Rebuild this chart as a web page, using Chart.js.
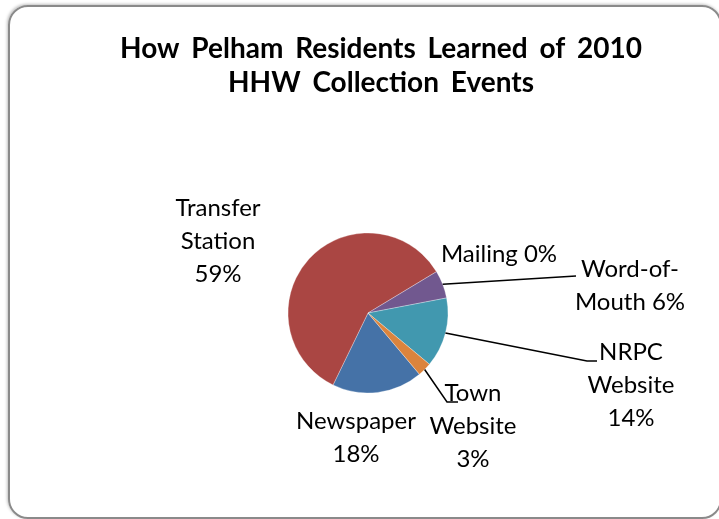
<!DOCTYPE html>
<html>
<head>
<meta charset="utf-8">
<script src="https://cdn.jsdelivr.net/npm/chart.js@4/dist/chart.umd.min.js"></script>
<style>
    html, body { margin: 0; padding: 0; background: #fff; }
    body { width: 719px; height: 519px; position: relative; overflow: hidden; }
    #frame {
        position: absolute; left: 8px; top: 5px;
        width: 714px; height: 514px; box-sizing: border-box;
        border: 2px solid #8a8a8a; border-radius: 20px;
        box-shadow: -1px -1px 3px rgba(0, 0, 0, 0.25);
    }
    #pie { position: absolute; left: 0; top: 0; }
</style>
</head>
<body>
<div id="frame"></div>
<canvas id="pie" width="719" height="519"></canvas>
<script>
// Data (respondent counts)
const categories = ['Newspaper', 'Transfer Station', 'Mailing', 'Word-of-Mouth', 'NRPC Website', 'Town Website'];
const counts = [26, 84, 0, 8, 20, 4];
const sliceColors = ['#4572A7', '#AA4643', '#89A54E', '#71588F', '#4198AF', '#DB843D'];
const titleLines = ['How Pelham Residents Learned of 2010', 'HHW Collection Events'];

// How each label is wrapped, '{p}' is the percentage
const labelText = ['Newspaper|{p}', 'Transfer|Station|{p}', 'Mailing {p}', 'Word-of-|Mouth {p}', 'NRPC|Website|{p}', 'Town|Website|{p}'];

// Label block centres and leader bends, relative to the pie centre
const labelLayout = [
    { dx: -12, dy: 125, leader: null },
    { dx: -150, dy: -72, leader: null },
    { dx: 131, dy: -59, leader: null },
    { dx: 262, dy: -27, leader: [[208, -37]] },
    { dx: 263, dy: 72, leader: [[219, 48], [229, 48]] },
    { dx: 105, dy: 113, leader: [[79, 89], [90, 89]] },
];

const LABEL_FONT = '24px Lato';
const LINE_HEIGHT = 33;

const sliceLabels = {
    id: 'sliceLabels',
    afterDatasetsDraw(chart) {
        const ctx = chart.ctx;
        const arcs = chart.getDatasetMeta(0).data;
        const total = counts.reduce((a, b) => a + b, 0);

        ctx.save();
        // leader lines
        ctx.strokeStyle = '#000';
        ctx.lineWidth = 1.5;
        arcs.forEach((arc, i) => {
            const lay = labelLayout[i];
            if (!lay.leader) return;
            const p = arc.getProps(['x', 'y', 'startAngle', 'endAngle', 'outerRadius'], true);
            const mid = (p.startAngle + p.endAngle) / 2;
            ctx.beginPath();
            ctx.moveTo(p.x + Math.cos(mid) * p.outerRadius, p.y + Math.sin(mid) * p.outerRadius);
            lay.leader.forEach(pt => ctx.lineTo(p.x + pt[0], p.y + pt[1]));
            ctx.stroke();
        });

        // labels
        ctx.font = LABEL_FONT;
        ctx.fillStyle = '#000';
        ctx.textAlign = 'center';
        ctx.textBaseline = 'middle';
        arcs.forEach((arc, i) => {
            const lay = labelLayout[i];
            const p = arc.getProps(['x', 'y'], true);
            const pct = Math.round(counts[i] / total * 100) + '%';
            const lines = labelText[i].replace('{p}', pct).split('|');
            const top = p.y + lay.dy - (lines.length - 1) * LINE_HEIGHT / 2;
            lines.forEach((line, j) => ctx.fillText(line, p.x + lay.dx, top + j * LINE_HEIGHT));
        });

        // title
        ctx.font = 'bold 28px Lato';
        ctx.wordSpacing = '5px';
        ctx.textBaseline = 'alphabetic';
        titleLines.forEach((line, j) => ctx.fillText(line, 381, 58 + j * 34));
        ctx.restore();
    }
};

const ctx = document.getElementById('pie').getContext('2d');
new Chart(ctx, {
    type: 'pie',
    data: {
        labels: categories,
        datasets: [{
            data: counts,
            backgroundColor: sliceColors,
            borderColor: 'rgba(255, 255, 255, 0.6)',
            borderWidth: 0.5,
            hoverOffset: 0,
        }]
    },
    options: {
        responsive: false,
        animation: false,
        rotation: 140,
        radius: 80,
        layout: { padding: { left: 288, right: 271, top: 233, bottom: 126 } },
        plugins: {
            legend: { display: false },
            tooltip: { enabled: false },
            title: { display: false },
        },
    },
    plugins: [sliceLabels],
});
</script>
</body>
</html>
